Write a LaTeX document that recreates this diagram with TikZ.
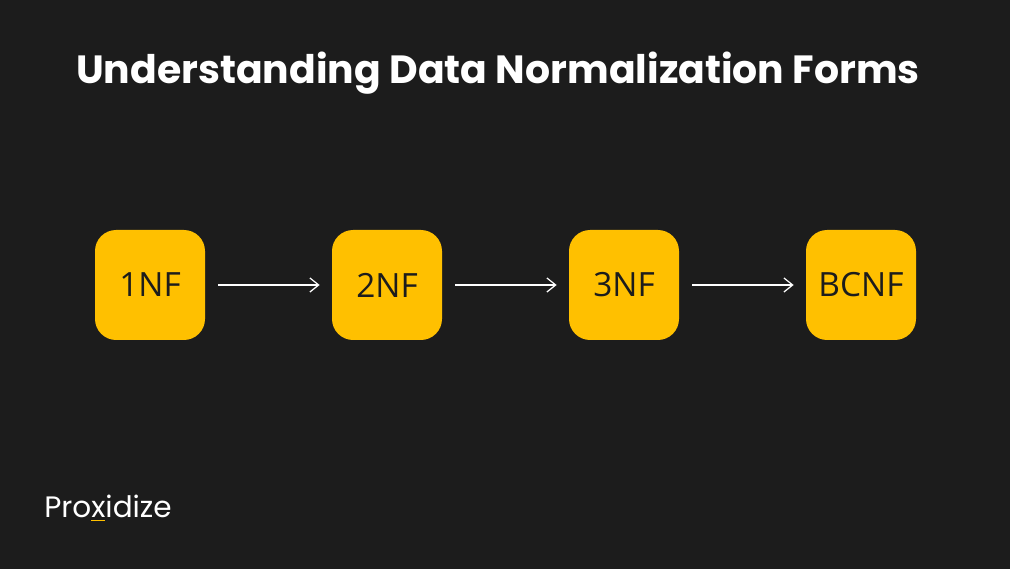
\documentclass[tikz,border=0pt]{standalone}
\usepackage{fontspec}
\setmainfont{Poppins}
\newfontfamily\boxfont{Open Sans}
\usetikzlibrary{positioning,arrows.meta}
\definecolor{bgdark}{HTML}{1C1C1C}
\definecolor{nfyellow}{HTML}{FFC000}
\tikzset{
  nfbox/.style={fill=nfyellow, rounded corners=12pt, minimum size=2.2cm,
    inner sep=0pt, text=bgdark, font=\boxfont\fontsize{19}{22}\selectfont},
  nfarrow/.style={draw=white, line width=0.7pt, -{Straight Barb[length=5pt,width=8pt]}}
}
\begin{document}
\begin{tikzpicture}
            \fill[bgdark] (0,0) rectangle (20.2,11.38);
            \useasboundingbox (0,0) rectangle (20.2,11.38);

            \node[anchor=west, text=white, font=\bfseries\fontsize{22.4}{26}\selectfont] (title) at (1.4,9.92) {Understanding Data Normalization Forms};

            \node[nfbox] (one) at (3.0,5.68) {1NF};
            \node[nfbox] (two) at (7.74,5.68) {2NF};
            \node[nfbox] (three) at (12.48,5.68) {3NF};
            \node[nfbox] (bcnf) at (17.22,5.68) {BCNF};

            \draw[nfarrow] ([xshift=0.26cm]one.east) -- ([xshift=-0.24cm]two.west);
            \draw[nfarrow] ([xshift=0.26cm]two.east) -- ([xshift=-0.24cm]three.west);
            \draw[nfarrow] ([xshift=0.26cm]three.east) -- ([xshift=-0.24cm]bcnf.west);

            \node[anchor=west, text=white, inner sep=0pt, font=\fontsize{16.8}{19}\selectfont] (logo) at (0.88,1.22) {Pro\textcolor{nfyellow}{\underline{\textcolor{white}{x}}}idize};
\end{tikzpicture}
\end{document}
